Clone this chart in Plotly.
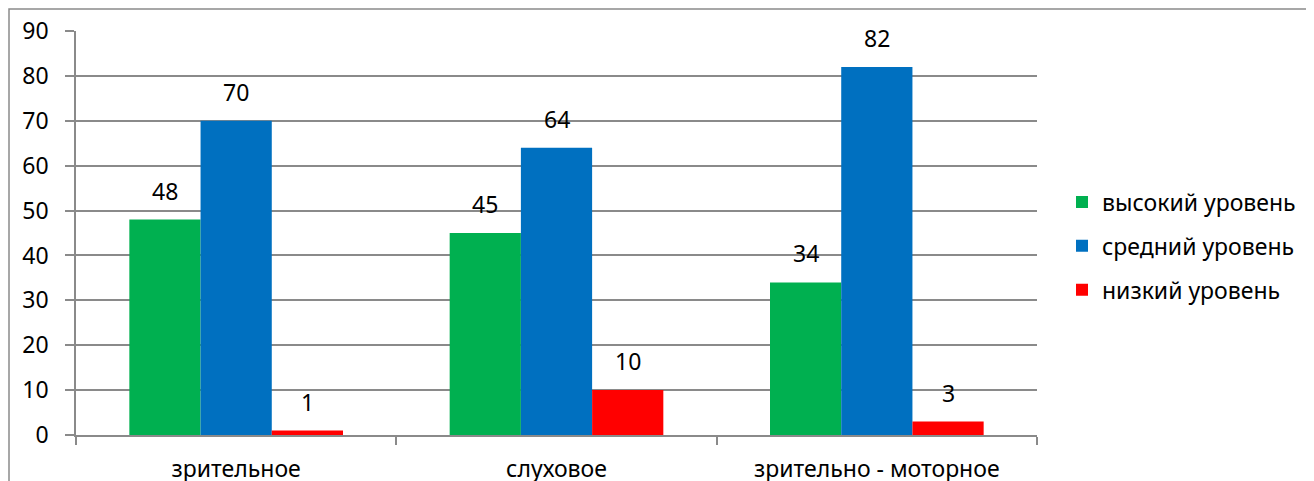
import plotly.graph_objects as go

categories = ["зрительное", "слуховое", "зрительно - моторное"]
series_names = ["высокий уровень", "средний уровень", "низкий уровень"]
high = [48, 45, 34]
mid = [70, 64, 82]
low = [1, 10, 3]
colors = ["#00B050", "#0070C0", "#FF0000"]
y_ticks = [0, 10, 20, 30, 40, 50, 60, 70, 80, 90]

# page body has an 8px margin; figure is sized/placed to compensate
OFF = 8
W, H = 1314 - OFF, 481 - OFF
ML, MR, MT, MB = 76 - OFF, 1314 - 1037, 31 - OFF, 481 - 435
BARGAP = 0.333
FONT = "Noto Sans"
FS = 23
GRID = "#8a8a8a"

fig = go.Figure()
all_series = [high, mid, low]
for i, (name, vals, col) in enumerate(zip(series_names, all_series, colors)):
    fig.add_trace(go.Bar(
        x=categories, y=vals, name=name, marker=dict(color=col, line=dict(width=0)),
        legendgroup=name,
    ))

plot_w = W - ML - MR
plot_h = H - MT - MB
bar_px = plot_w / len(categories) * (1 - BARGAP) / len(all_series)
annotations = []
for i, vals in enumerate(all_series):
    for c, v in zip(categories, vals):
        annotations.append(dict(
            x=c, y=v, xref="x", yref="y", text=str(v), showarrow=False,
            xshift=(i - 1) * bar_px, yshift=29, yanchor="middle",
            font=dict(family=FONT, size=FS, color="black"),
        ))

fig.update_layout(
    width=W, height=H,
    margin=dict(l=ML, r=MR, t=MT, b=MB, autoexpand=False),
    paper_bgcolor="white", plot_bgcolor="white",
    barmode="group", bargap=BARGAP, bargroupgap=0,
    font=dict(family=FONT, size=FS, color="black"),
    legend=dict(x=(1062 - OFF - ML) / plot_w, y=(435 - 246) / 404, xanchor="left", yanchor="middle",
                tracegroupgap=11, font=dict(family=FONT, size=FS, color="black"),
                bgcolor="rgba(0,0,0,0)"),
    annotations=annotations,
    shapes=[dict(type="rect", xref="paper", yref="paper",
                 x0=(9 - OFF - ML) / plot_w, x1=1.5,
                 y0=-0.3, y1=(plot_h + MT - (9 - OFF)) / plot_h,
                 line=dict(color=GRID, width=1.5), layer="below")],
)
fig.update_xaxes(
    automargin=False,
    showline=True, linecolor=GRID, linewidth=1.5,
    ticks="outside", tickson="boundaries", ticklen=8, tickcolor=GRID, tickwidth=1.5,
    showgrid=False, ticklabelstandoff=13,
)
fig.update_yaxes(
    automargin=False,
    range=[0, 90], tickvals=y_ticks, showline=True, linecolor=GRID, linewidth=1.5,
    ticks="outside", ticklen=9, tickcolor=GRID, tickwidth=1.5,
    showgrid=True, gridcolor=GRID, gridwidth=1.5, zeroline=False,
    ticklabelstandoff=12,
)
fig.write_html("out.html")
